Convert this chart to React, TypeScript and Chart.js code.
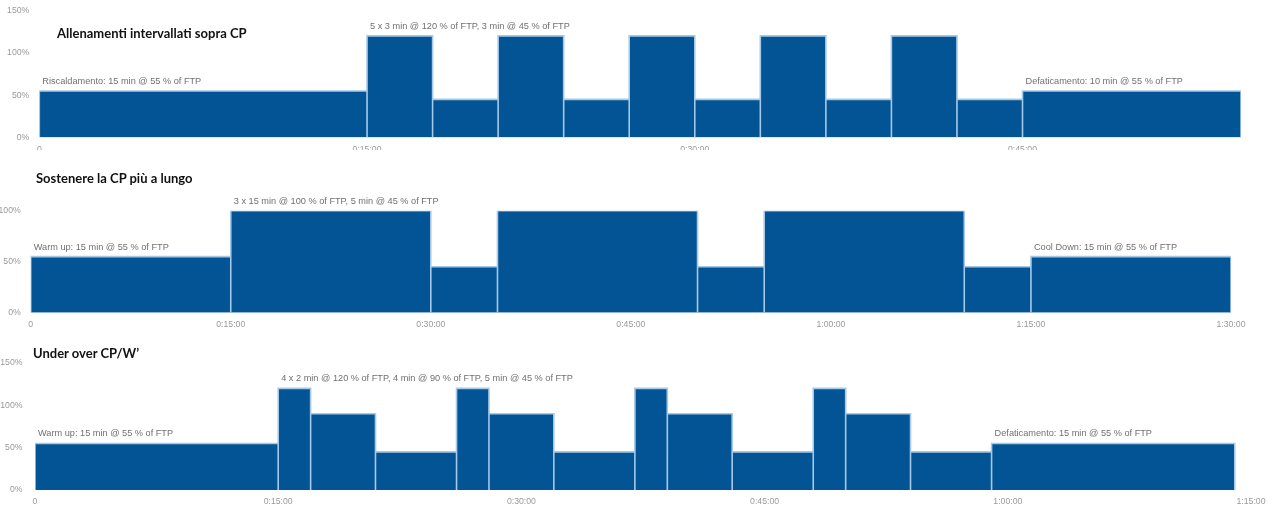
import React, { useEffect, useRef } from 'react';
import { Chart, registerables } from 'chart.js';

Chart.register(...registerables);

// ---------- Data ----------
// Workout 1: Allenamenti intervallati sopra CP
const w1Title = 'Allenamenti intervallati sopra CP';
const w1Durations = [15, 3, 3, 3, 3, 3, 3, 3, 3, 3, 3, 10]; // minutes
const w1Intensity = [55, 120, 45, 120, 45, 120, 45, 120, 45, 120, 45, 55]; // % FTP
const w1NoteSegments = [0, 1, 11];
const w1NoteTexts = [
  'Riscaldamento: 15 min @ 55 % of FTP',
  '5 x 3 min @ 120 % of FTP, 3 min @ 45 % of FTP',
  'Defaticamento: 10 min @ 55 % of FTP',
];
const w1XTicks = [0, 15, 30, 45];
const w1XMax = 55;
const w1YTicks = [0, 50, 100, 150];

// Workout 2: Sostenere la CP più a lungo
const w2Title = 'Sostenere la CP più a lungo';
const w2Durations = [15, 15, 5, 15, 5, 15, 5, 15];
const w2Intensity = [55, 100, 45, 100, 45, 100, 45, 55];
const w2NoteSegments = [0, 1, 7];
const w2NoteTexts = [
  'Warm up: 15 min @ 55 % of FTP',
  '3 x 15 min @ 100 % of FTP, 5 min @ 45 % of FTP',
  'Cool Down: 15 min @ 55 % of FTP',
];
const w2XTicks = [0, 15, 30, 45, 60, 75, 90];
const w2XMax = 90;
const w2YTicks = [0, 50, 100];

// Workout 3: Under over CP/W’
const w3Title = 'Under over CP/W’';
const w3Durations = [15, 2, 4, 5, 2, 4, 5, 2, 4, 5, 2, 4, 5, 15];
const w3Intensity = [55, 120, 90, 45, 120, 90, 45, 120, 90, 45, 120, 90, 45, 55];
const w3NoteSegments = [0, 1, 13];
const w3NoteTexts = [
  'Warm up: 15 min @ 55 % of FTP',
  '4 x 2 min @ 120 % of FTP, 4 min @ 90 % of FTP, 5 min @ 45 % of FTP',
  'Defaticamento: 15 min @ 55 % of FTP',
];
const w3XTicks = [0, 15, 30, 45, 60, 75];
const w3XMax = 75;
const w3YTicks = [0, 50, 100, 150];

// ---------- Helpers ----------
const BAR_COLOR = '#025494';
const EDGE_COLOR = '#a7c9e8';
const NOTE_COLOR = '#707070';
const TICK_COLOR = '#9a9a9a';

function fmtTime(m: number): string {
  if (m === 0) return '0';
  const h = Math.floor(m / 60);
  const mm = m % 60;
  return `${h}:${String(mm).padStart(2, '0')}:00`;
}

function buildProfile(durations: number[], intensity: number[]) {
  const pts: { x: number; y: number }[] = [{ x: 0, y: 0 }];
  let t = 0;
  durations.forEach((d, i) => {
    pts.push({ x: t, y: intensity[i] });
    pts.push({ x: t + d, y: intensity[i] });
    pts.push({ x: t + d, y: 0 });
    t += d;
  });
  return pts;
}

interface Spec {
  title: string;
  durations: number[];
  intensity: number[];
  noteSegments: number[];
  noteTexts: string[];
  xTicks: number[];
  xMax: number;
  yTicks: number[];
  // layout (pixels)
  top: number;
  boxHeight: number;
  canvasTop: number;
  canvasHeight: number;
  areaLeft: number;
  areaRight: number;
  areaTop: number;
  areaBottom: number;
  yPad: number;
  xPad: number;
  titleLeft: number;
  titleTop: number;
}

const notesPlugin = {
  id: 'segmentNotes',
  afterDatasetsDraw(chart: any) {
    const spec: Spec = chart.options.plugins.segmentNotes.spec;
    const xs = chart.scales.x;
    const ys = chart.scales.y;
    const ctx = chart.ctx;
    ctx.save();
    ctx.font = '9.2px "Liberation Sans", Arial, sans-serif';
    ctx.fillStyle = NOTE_COLOR;
    ctx.textBaseline = 'alphabetic';
    ctx.textAlign = 'left';
    spec.noteSegments.forEach((seg, k) => {
      let start = 0;
      for (let i = 0; i < seg; i++) start += spec.durations[i];
      const px = xs.getPixelForValue(start) + 3;
      const py = ys.getPixelForValue(spec.intensity[seg]) - 7;
      ctx.fillText(spec.noteTexts[k], px, py);
    });
    ctx.restore();
  },
};

function WorkoutChart({ spec }: { spec: Spec }) {
  const ref = useRef<HTMLCanvasElement | null>(null);
  useEffect(() => {
    if (!ref.current) return;
    const yMax = spec.yTicks[spec.yTicks.length - 1];
    const chart = new Chart(ref.current, {
      type: 'line',
      data: {
        datasets: [
          {
            data: buildProfile(spec.durations, spec.intensity),
            fill: 'origin',
            backgroundColor: BAR_COLOR,
            borderColor: EDGE_COLOR,
            borderWidth: 1.6,
            pointRadius: 0,
            tension: 0,
            borderJoinStyle: 'miter',
          } as any,
        ],
      },
      options: {
        animation: false,
        responsive: false,
        maintainAspectRatio: false,
        events: [],
        layout: {
          padding: {
            top: spec.areaTop,
            right: 1280 - spec.areaRight,
            left: 0,
            bottom: 0,
          },
        },
        plugins: {
          legend: { display: false },
          tooltip: { enabled: false },
          segmentNotes: { spec },
        } as any,
        scales: {
          x: {
            type: 'linear',
            min: 0,
            max: spec.xMax,
            grid: { display: false, drawTicks: false },
            border: { display: false },
            afterBuildTicks: (scale: any) => {
              scale.ticks = spec.xTicks.map((v) => ({ value: v }));
            },
            afterFit: (scale: any) => {
              scale.height = spec.canvasHeight - spec.areaBottom;
            },
            ticks: {
              padding: spec.xPad,
              maxRotation: 0,
              autoSkip: false,
              color: TICK_COLOR,
              font: { size: 8.7, family: '"Liberation Sans", Arial, sans-serif' },
              callback: (v: any) => fmtTime(Number(v)),
            },
          },
          y: {
            type: 'linear',
            min: 0,
            max: yMax,
            grid: { display: false, drawTicks: false },
            border: { display: false },
            afterBuildTicks: (scale: any) => {
              scale.ticks = spec.yTicks.map((v) => ({ value: v }));
            },
            afterFit: (scale: any) => {
              scale.width = spec.areaLeft;
            },
            ticks: {
              padding: spec.yPad,
              color: TICK_COLOR,
              font: { size: 8.7, family: '"Liberation Sans", Arial, sans-serif' },
              callback: (v: any) => `${v}%`,
            },
          },
        },
      } as any,
      plugins: [notesPlugin],
    });
    return () => chart.destroy();
  }, [spec]);

  return (
    <div
      style={{
        position: 'absolute',
        left: 0,
        top: spec.top,
        width: 1280,
        height: spec.boxHeight,
        overflow: 'hidden',
      }}
    >
      <canvas
        ref={ref}
        width={1280}
        height={spec.canvasHeight}
        style={{
          position: 'absolute',
          left: 0,
          top: spec.canvasTop,
          display: 'block',
          width: 1280,
          height: spec.canvasHeight,
        }}
      />
      <div
        style={{
          position: 'absolute',
          left: spec.titleLeft,
          top: spec.titleTop,
          fontFamily: 'Lato, "Open Sans", sans-serif',
          fontWeight: 700,
          fontSize: 13,
          lineHeight: '16px',
          color: '#111',
          whiteSpace: 'nowrap',
        }}
      >
        {spec.title}
      </div>
    </div>
  );
}

const specs: Spec[] = [
  {
    title: w1Title,
    durations: w1Durations,
    intensity: w1Intensity,
    noteSegments: w1NoteSegments,
    noteTexts: w1NoteTexts,
    xTicks: w1XTicks,
    xMax: w1XMax,
    yTicks: w1YTicks,
    top: 0,
    boxHeight: 150,
    canvasTop: -10,
    canvasHeight: 175,
    areaLeft: 39.3,
    areaRight: 1241,
    areaTop: 20.5,
    areaBottom: 147.5,
    yPad: 10,
    xPad: 7,
    titleLeft: 57,
    titleTop: 25,
  },
  {
    title: w2Title,
    durations: w2Durations,
    intensity: w2Intensity,
    noteSegments: w2NoteSegments,
    noteTexts: w2NoteTexts,
    xTicks: w2XTicks,
    xMax: w2XMax,
    yTicks: w2YTicks,
    top: 151,
    boxHeight: 189,
    canvasTop: 0,
    canvasHeight: 189,
    areaLeft: 30.7,
    areaRight: 1231,
    areaTop: 59.7,
    areaBottom: 161.7,
    yPad: 10,
    xPad: 7,
    titleLeft: 36,
    titleTop: 19,
  },
  {
    title: w3Title,
    durations: w3Durations,
    intensity: w3Intensity,
    noteSegments: w3NoteSegments,
    noteTexts: w3NoteTexts,
    xTicks: w3XTicks,
    xMax: w3XMax,
    yTicks: w3YTicks,
    top: 340,
    boxHeight: 168,
    canvasTop: 0,
    canvasHeight: 168,
    areaLeft: 35,
    areaRight: 1251,
    areaTop: 23,
    areaBottom: 150,
    yPad: 12.5,
    xPad: 6,
    titleLeft: 33,
    titleTop: 5,
  },
];

export default function App() {
  return (
    <div
      style={{
        position: 'fixed',
        left: 0,
        top: 0,
        width: 1280,
        height: 508,
        background: '#ffffff',
        overflow: 'hidden',
      }}
    >
      {specs.map((s, i) => (
        <WorkoutChart key={i} spec={s} />
      ))}
    </div>
  );
}
